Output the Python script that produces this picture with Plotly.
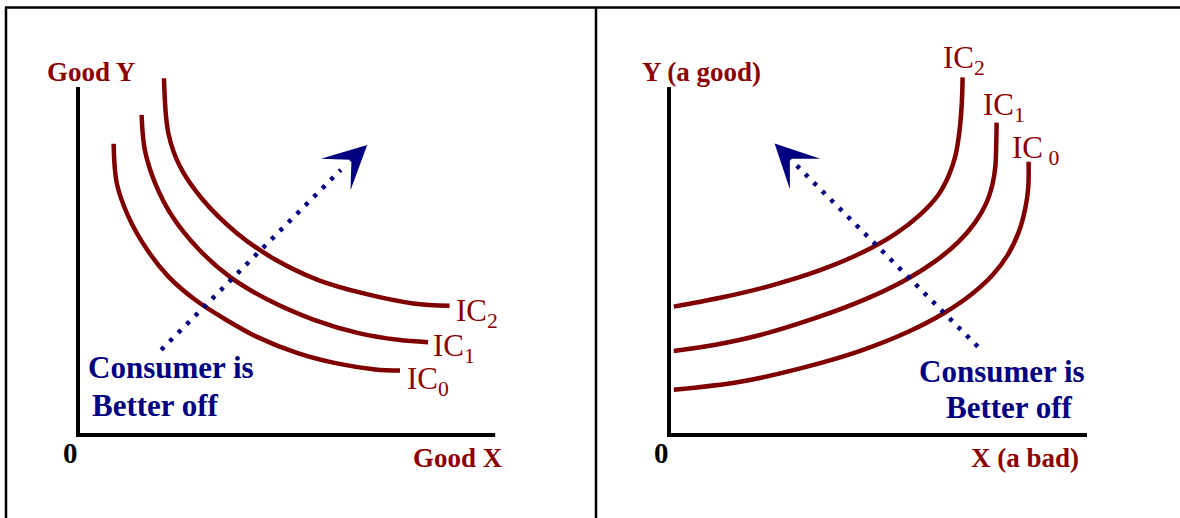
import plotly.graph_objects as go

# ---- Panel 1: two goods (indifference curves slope downward) ----
GG_IC0_X = [0.89, 0.97, 1.26, 1.73, 2.26, 2.93, 3.70, 4.46, 5.51, 6.47, 7.43, 8.05]
GG_IC0_Y = [7.28, 6.29, 5.46, 4.63, 3.96, 3.38, 2.88, 2.46, 2.04, 1.79, 1.64, 1.61]
GG_IC1_X = [1.59, 1.67, 1.93, 2.36, 3.03, 3.79, 4.75, 5.90, 7.04, 8.00, 8.75]
GG_IC1_Y = [8.00, 7.13, 6.29, 5.46, 4.63, 3.96, 3.38, 2.88, 2.54, 2.38, 2.32]
GG_IC2_X = [2.15, 2.26, 2.55, 3.12, 3.98, 4.94, 5.99, 7.14, 8.38, 9.29]
GG_IC2_Y = [8.92, 7.54, 6.71, 5.88, 5.04, 4.38, 3.88, 3.54, 3.29, 3.23]
GG_ARROW_X = [2.08, 6.57]      # dotted path (start, end)
GG_ARROW_Y = [2.13, 6.63]
GG_ARROW_TIP = (7.23, 7.25)

# ---- Panel 2: X is a bad (indifference curves slope upward) ----
GB_IC0_X = [0.12, 1.78, 3.38, 4.80, 5.98, 6.88, 7.58, 8.10, 8.48, 8.75, 8.91, 8.98, 8.99]
GB_IC0_Y = [1.13, 1.33, 1.69, 2.11, 2.58, 3.05, 3.53, 4.01, 4.52, 5.09, 5.68, 6.18, 6.83]
GB_IC1_X = [0.12, 1.13, 2.28, 3.65, 4.90, 5.90, 6.65, 7.23, 7.65, 7.93, 8.09, 8.16, 8.18, 8.19]
GB_IC1_Y = [2.10, 2.25, 2.50, 2.92, 3.39, 3.87, 4.34, 4.82, 5.31, 5.79, 6.28, 6.73, 7.25, 7.81]
GB_IC2_X = [0.12, 1.28, 2.53, 3.78, 4.83, 5.65, 6.28, 6.73, 7.00, 7.16, 7.26, 7.32, 7.34]
GB_IC2_Y = [3.21, 3.43, 3.73, 4.12, 4.56, 5.02, 5.51, 6.00, 6.50, 6.98, 7.58, 8.30, 8.94]
GB_ARROW_X = [7.72, 3.18]
GB_ARROW_Y = [2.21, 6.75]
GB_ARROW_TIP = (2.64, 7.29)

# Axis extents (x end, y end) for each panel
AXIS_END_1 = (10.43, 8.70)
AXIS_END_2 = (10.45, 8.70)

CURVE_RED = "#800000"
LABEL_RED = "#8b0000"
NAVY = "#000080"
SERIF = "Liberation Serif"

fig = go.Figure()


def add_panel(xa, ya, axis_end, curves, arrow_x, arrow_y):
    # axes drawn as an L through the origin
    fig.add_trace(go.Scatter(
        x=[0, 0, axis_end[0]], y=[axis_end[1], 0, 0], mode="lines",
        line=dict(color="black", width=4), xaxis=xa, yaxis=ya,
        hoverinfo="skip"))
    for cx, cy in curves:
        fig.add_trace(go.Scatter(
            x=cx, y=cy, mode="lines",
            line=dict(color=CURVE_RED, width=4.5, shape="spline", smoothing=1.0),
            xaxis=xa, yaxis=ya, hoverinfo="skip"))
    fig.add_trace(go.Scatter(
        x=arrow_x, y=arrow_y, mode="lines",
        line=dict(color=NAVY, width=4.5, dash="4px,8px"),
        xaxis=xa, yaxis=ya, hoverinfo="skip"))


add_panel("x", "y", AXIS_END_1,
          [(GG_IC0_X, GG_IC0_Y), (GG_IC1_X, GG_IC1_Y), (GG_IC2_X, GG_IC2_Y)],
          GG_ARROW_X, GG_ARROW_Y)
add_panel("x2", "y2", AXIS_END_2,
          [(GB_IC0_X, GB_IC0_Y), (GB_IC1_X, GB_IC1_Y), (GB_IC2_X, GB_IC2_Y)],
          GB_ARROW_X, GB_ARROW_Y)


def arrow_head(xr, yr, tip, path_x, path_y):
    # short arrow along the dotted path so only the head shows
    tx = tip[0] + 0.7 * (path_x[1] - tip[0])
    ty = tip[1] + 0.7 * (path_y[1] - tip[1])
    return dict(x=tip[0], y=tip[1], ax=tx, ay=ty, xref=xr, yref=yr,
                axref=xr, ayref=yr, text="", showarrow=True, arrowhead=3,
                arrowsize=3.6, arrowwidth=2, arrowcolor=NAVY)


def label(xr, yr, x, y, text, color, size, bold=False, xanchor="center"):
    if bold:
        text = "<b>" + text + "</b>"
    return dict(x=x, y=y, xref=xr, yref=yr, text=text, showarrow=False,
                xanchor=xanchor, yanchor="middle",
                font=dict(family=SERIF, size=size, color=color))


annotations = [
    arrow_head("x", "y", GG_ARROW_TIP, GG_ARROW_X, GG_ARROW_Y),
    arrow_head("x2", "y2", GB_ARROW_TIP, GB_ARROW_X, GB_ARROW_Y),
    # panel 1 text
    label("x", "y", 0.33, 9.08, "Good Y", LABEL_RED, 27, bold=True),
    label("x", "y", 9.50, -0.58, "Good X", LABEL_RED, 27, bold=True),
    label("x", "y", -0.20, -0.45, "0", "black", 29, bold=True),
    label("x", "y", 9.40, 3.05, "IC<sub>2</sub>", LABEL_RED, 31, xanchor="left"),
    label("x", "y", 8.83, 2.18, "IC<sub>1</sub>", LABEL_RED, 31, xanchor="left"),
    label("x", "y", 8.18, 1.35, "IC<sub>0</sub>", LABEL_RED, 31, xanchor="left"),
    label("x", "y", 0.20, 1.68, "Consumer is", NAVY, 31, bold=True, xanchor="left"),
    label("x", "y", 0.30, 0.75, "Better off", NAVY, 31, bold=True, xanchor="left"),
    # panel 2 text
    label("x2", "y2", 0.80, 9.08, "Y (a good)", LABEL_RED, 27, bold=True),
    label("x2", "y2", 8.91, -0.58, "X (a bad)", LABEL_RED, 27, bold=True),
    label("x2", "y2", -0.20, -0.45, "0", "black", 29, bold=True),
    label("x2", "y2", 6.80, 9.38, "IC<sub>2</sub>", LABEL_RED, 31, xanchor="left"),
    label("x2", "y2", 7.80, 8.20, "IC<sub>1</sub>", LABEL_RED, 31, xanchor="left"),
    label("x2", "y2", 8.53, 7.13, "IC<sub> 0</sub>", LABEL_RED, 31, xanchor="left"),
    label("x2", "y2", 8.33, 1.58, "Consumer is", NAVY, 31, bold=True),
    label("x2", "y2", 8.51, 0.70, "Better off", NAVY, 31, bold=True),
]

W, H = 1180, 518
# frame: top rule, left rule and the divider between the two panels
frame = [
    dict(type="line", xref="paper", yref="paper", x0=5 / W, x1=1, y0=1 - 7.5 / H, y1=1 - 7.5 / H),
    dict(type="line", xref="paper", yref="paper", x0=6 / W, x1=6 / W, y0=0, y1=1 - 7.5 / H),
    dict(type="line", xref="paper", yref="paper", x0=596 / W, x1=596 / W, y0=0, y1=1 - 7.5 / H),
]
for s in frame:
    s["line"] = dict(color="black", width=2.5)

hidden = dict(visible=False, fixedrange=True)
fig.update_layout(
    width=W, height=H,
    margin=dict(l=0, r=0, t=0, b=0),
    paper_bgcolor="white", plot_bgcolor="white",
    showlegend=False,
    xaxis=dict(domain=[0, 0.5], range=[-1.95, 12.8], **hidden),
    yaxis=dict(domain=[0, 1], range=[-2.075, 10.875], **hidden),
    xaxis2=dict(domain=[0.5, 1], range=[-1.975, 12.775], anchor="y2", **hidden),
    yaxis2=dict(domain=[0, 1], range=[-2.075, 10.875], anchor="x2", **hidden),
    annotations=annotations,
    shapes=frame,
)

fig.write_html("out.html")
